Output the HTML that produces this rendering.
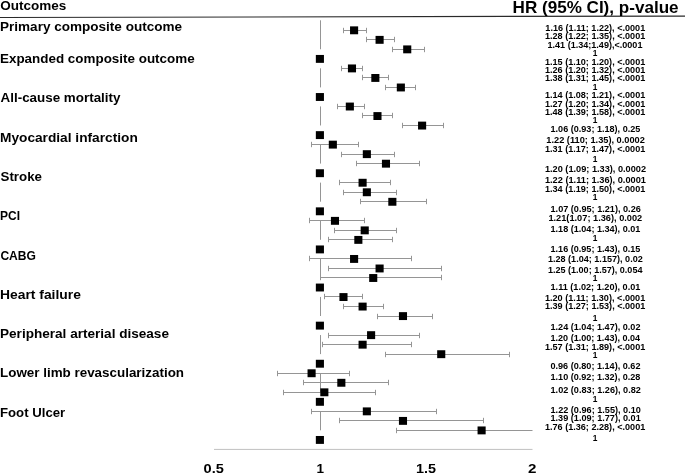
<!DOCTYPE html><html><head><meta charset="utf-8"><style>html,body{margin:0;padding:0;background:#fff;}svg{display:block;will-change:transform}text{font-family:"Liberation Sans",sans-serif;font-weight:bold;fill:#000}</style></head><body>
<svg width="685" height="473" viewBox="0 0 685 473">
<rect width="685" height="473" fill="#fff"/>
<path d="M0 17.5 L685 16.1" stroke="#2a2a2a" stroke-width="1.2" fill="none"/>
<text x="-0.01" y="30.90" font-size="13.2" textLength="182.07" lengthAdjust="spacingAndGlyphs">Primary composite outcome</text>
<text x="0.00" y="62.90" font-size="13.2" textLength="194.66" lengthAdjust="spacingAndGlyphs">Expanded composite outcome</text>
<text x="0.57" y="101.80" font-size="13.2" textLength="119.91" lengthAdjust="spacingAndGlyphs">All-cause mortality</text>
<text x="-0.02" y="141.90" font-size="13.2" textLength="137.77" lengthAdjust="spacingAndGlyphs">Myocardial infarction</text>
<text x="0.52" y="180.50" font-size="13.2" textLength="41.44" lengthAdjust="spacingAndGlyphs">Stroke</text>
<text x="0.10" y="220.10" font-size="13.2" textLength="20.01" lengthAdjust="spacingAndGlyphs">PCI</text>
<text x="0.40" y="259.60" font-size="13.2" textLength="35.54" lengthAdjust="spacingAndGlyphs">CABG</text>
<text x="-0.03" y="298.80" font-size="13.2" textLength="80.90" lengthAdjust="spacingAndGlyphs">Heart failure</text>
<text x="-0.01" y="337.80" font-size="13.2" textLength="168.97" lengthAdjust="spacingAndGlyphs">Peripheral arterial disease</text>
<text x="0.00" y="377.20" font-size="13.2" textLength="184.03" lengthAdjust="spacingAndGlyphs">Lower limb revascularization</text>
<text x="0.02" y="416.60" font-size="13.2" textLength="65.18" lengthAdjust="spacingAndGlyphs">Foot Ulcer</text>
<text x="0.35" y="9.50" font-size="13.2" textLength="66.01" lengthAdjust="spacingAndGlyphs">Outcomes</text>
<text x="512.56" y="13.10" font-size="16.5" textLength="166.03" lengthAdjust="spacingAndGlyphs">HR (95% CI), p-value</text>
<text x="545.33" y="31.00" font-size="9.5" textLength="99.92" lengthAdjust="spacingAndGlyphs">1.16 (1.11; 1.22), &lt;.0001</text>
<text x="544.93" y="39.40" font-size="9.5" textLength="100.33" lengthAdjust="spacingAndGlyphs">1.28 (1.22; 1.35), &lt;.0001</text>
<text x="547.53" y="47.60" font-size="9.5" textLength="94.92" lengthAdjust="spacingAndGlyphs">1.41 (1.34;1.49),&lt;.0001</text>
<text x="592.87" y="55.70" font-size="9.5" textLength="4.66" lengthAdjust="spacingAndGlyphs">1</text>
<text x="544.93" y="64.70" font-size="9.5" textLength="100.33" lengthAdjust="spacingAndGlyphs">1.15 (1.10; 1.20), &lt;.0001</text>
<text x="544.93" y="73.10" font-size="9.5" textLength="100.33" lengthAdjust="spacingAndGlyphs">1.26 (1.20; 1.32), &lt;.0001</text>
<text x="544.93" y="81.40" font-size="9.5" textLength="100.33" lengthAdjust="spacingAndGlyphs">1.38 (1.31; 1.45), &lt;.0001</text>
<text x="592.87" y="89.60" font-size="9.5" textLength="4.66" lengthAdjust="spacingAndGlyphs">1</text>
<text x="544.93" y="98.10" font-size="9.5" textLength="100.33" lengthAdjust="spacingAndGlyphs">1.14 (1.08; 1.21), &lt;.0001</text>
<text x="544.93" y="106.50" font-size="9.5" textLength="100.33" lengthAdjust="spacingAndGlyphs">1.27 (1.20; 1.34), &lt;.0001</text>
<text x="544.93" y="114.90" font-size="9.5" textLength="100.33" lengthAdjust="spacingAndGlyphs">1.48 (1.39; 1.58), &lt;.0001</text>
<text x="592.87" y="123.10" font-size="9.5" textLength="4.66" lengthAdjust="spacingAndGlyphs">1</text>
<text x="550.53" y="132.10" font-size="9.5" textLength="89.82" lengthAdjust="spacingAndGlyphs">1.06 (0.93; 1.18), 0.25</text>
<text x="546.32" y="143.10" font-size="9.5" textLength="98.55" lengthAdjust="spacingAndGlyphs">1.22 (110; 1.35), 0.0002</text>
<text x="544.93" y="151.90" font-size="9.5" textLength="100.33" lengthAdjust="spacingAndGlyphs">1.31 (1.17; 1.47), &lt;.0001</text>
<text x="592.87" y="162.40" font-size="9.5" textLength="4.66" lengthAdjust="spacingAndGlyphs">1</text>
<text x="544.92" y="172.40" font-size="9.5" textLength="101.15" lengthAdjust="spacingAndGlyphs">1.20 (1.09; 1.33), 0.0002</text>
<text x="544.92" y="183.20" font-size="9.5" textLength="101.03" lengthAdjust="spacingAndGlyphs">1.22 (1.11; 1.36), 0.0001</text>
<text x="544.93" y="192.00" font-size="9.5" textLength="100.33" lengthAdjust="spacingAndGlyphs">1.34 (1.19; 1.50), &lt;.0001</text>
<text x="592.87" y="200.40" font-size="9.5" textLength="4.66" lengthAdjust="spacingAndGlyphs">1</text>
<text x="550.53" y="211.80" font-size="9.5" textLength="90.30" lengthAdjust="spacingAndGlyphs">1.07 (0.95; 1.21), 0.26</text>
<text x="548.42" y="220.90" font-size="9.5" textLength="93.85" lengthAdjust="spacingAndGlyphs">1.21(1.07; 1.36), 0.002</text>
<text x="550.53" y="232.30" font-size="9.5" textLength="89.82" lengthAdjust="spacingAndGlyphs">1.18 (1.04; 1.34), 0.01</text>
<text x="592.87" y="240.70" font-size="9.5" textLength="4.66" lengthAdjust="spacingAndGlyphs">1</text>
<text x="550.53" y="252.40" font-size="9.5" textLength="89.82" lengthAdjust="spacingAndGlyphs">1.16 (0.95; 1.43), 0.15</text>
<text x="547.93" y="261.50" font-size="9.5" textLength="94.83" lengthAdjust="spacingAndGlyphs">1.28 (1.04; 1.157), 0.02</text>
<text x="547.93" y="272.50" font-size="9.5" textLength="94.52" lengthAdjust="spacingAndGlyphs">1.25 (1.00; 1.57), 0.054</text>
<text x="592.87" y="281.20" font-size="9.5" textLength="4.66" lengthAdjust="spacingAndGlyphs">1</text>
<text x="550.53" y="290.00" font-size="9.5" textLength="89.82" lengthAdjust="spacingAndGlyphs">1.11 (1.02; 1.20), 0.01</text>
<text x="544.93" y="300.70" font-size="9.5" textLength="100.33" lengthAdjust="spacingAndGlyphs">1.20 (1.11; 1.30), &lt;.0001</text>
<text x="544.93" y="309.40" font-size="9.5" textLength="100.33" lengthAdjust="spacingAndGlyphs">1.39 (1.27; 1.53), &lt;.0001</text>
<text x="592.87" y="321.20" font-size="9.5" textLength="4.66" lengthAdjust="spacingAndGlyphs">1</text>
<text x="550.53" y="330.20" font-size="9.5" textLength="89.94" lengthAdjust="spacingAndGlyphs">1.24 (1.04; 1.47), 0.02</text>
<text x="550.53" y="340.70" font-size="9.5" textLength="89.62" lengthAdjust="spacingAndGlyphs">1.20 (1.00; 1.43), 0.04</text>
<text x="544.93" y="349.80" font-size="9.5" textLength="100.33" lengthAdjust="spacingAndGlyphs">1.57 (1.31; 1.89), &lt;.0001</text>
<text x="592.87" y="358.00" font-size="9.5" textLength="4.66" lengthAdjust="spacingAndGlyphs">1</text>
<text x="550.44" y="369.40" font-size="9.5" textLength="90.02" lengthAdjust="spacingAndGlyphs">0.96 (0.80; 1.14), 0.62</text>
<text x="550.53" y="379.90" font-size="9.5" textLength="89.85" lengthAdjust="spacingAndGlyphs">1.10 (0.92; 1.32), 0.28</text>
<text x="550.52" y="392.90" font-size="9.5" textLength="90.34" lengthAdjust="spacingAndGlyphs">1.02 (0.83; 1.26), 0.82</text>
<text x="592.87" y="401.60" font-size="9.5" textLength="4.66" lengthAdjust="spacingAndGlyphs">1</text>
<text x="550.52" y="412.70" font-size="9.5" textLength="90.35" lengthAdjust="spacingAndGlyphs">1.22 (0.96; 1.55), 0.10</text>
<text x="550.53" y="421.40" font-size="9.5" textLength="90.23" lengthAdjust="spacingAndGlyphs">1.39 (1.09; 1.77), 0.01</text>
<text x="544.93" y="430.20" font-size="9.5" textLength="100.33" lengthAdjust="spacingAndGlyphs">1.76 (1.36; 2.28), &lt;.0001</text>
<text x="592.87" y="441.30" font-size="9.5" textLength="4.66" lengthAdjust="spacingAndGlyphs">1</text>
<line x1="320.5" y1="20.30" x2="320.5" y2="49.27" stroke="#959595" stroke-width="1"/>
<line x1="320.5" y1="68.32" x2="320.5" y2="87.38" stroke="#959595" stroke-width="1"/>
<line x1="320.5" y1="106.43" x2="320.5" y2="125.48" stroke="#959595" stroke-width="1"/>
<line x1="320.5" y1="144.53" x2="320.5" y2="163.58" stroke="#959595" stroke-width="1"/>
<line x1="320.5" y1="182.64" x2="320.5" y2="201.69" stroke="#959595" stroke-width="1"/>
<line x1="320.5" y1="220.74" x2="320.5" y2="239.79" stroke="#959595" stroke-width="1"/>
<line x1="320.5" y1="258.84" x2="320.5" y2="277.90" stroke="#959595" stroke-width="1"/>
<line x1="320.5" y1="296.95" x2="320.5" y2="316.00" stroke="#959595" stroke-width="1"/>
<line x1="320.5" y1="335.05" x2="320.5" y2="354.10" stroke="#959595" stroke-width="1"/>
<line x1="320.5" y1="373.16" x2="320.5" y2="392.21" stroke="#959595" stroke-width="1"/>
<line x1="320.5" y1="411.26" x2="320.5" y2="430.31" stroke="#959595" stroke-width="1"/>
<line x1="343.50" y1="30.50" x2="366.50" y2="30.50" stroke="#959595" stroke-width="1"/>
<line x1="343.50" y1="27.80" x2="343.50" y2="33.20" stroke="#959595" stroke-width="1"/>
<line x1="366.50" y1="27.80" x2="366.50" y2="33.20" stroke="#959595" stroke-width="1"/>
<rect x="350.04" y="26.37" width="8.1" height="7.90" fill="#000"/>
<line x1="366.50" y1="39.50" x2="394.50" y2="39.50" stroke="#959595" stroke-width="1"/>
<line x1="366.50" y1="36.80" x2="366.50" y2="42.20" stroke="#959595" stroke-width="1"/>
<line x1="394.50" y1="36.80" x2="394.50" y2="42.20" stroke="#959595" stroke-width="1"/>
<rect x="375.55" y="35.90" width="8.1" height="7.90" fill="#000"/>
<line x1="392.50" y1="49.50" x2="424.50" y2="49.50" stroke="#959595" stroke-width="1"/>
<line x1="392.50" y1="46.80" x2="392.50" y2="52.20" stroke="#959595" stroke-width="1"/>
<line x1="424.50" y1="46.80" x2="424.50" y2="52.20" stroke="#959595" stroke-width="1"/>
<rect x="403.18" y="45.42" width="8.1" height="7.90" fill="#000"/>
<rect x="315.84" y="54.95" width="8.1" height="7.90" fill="#000"/>
<line x1="341.50" y1="68.50" x2="362.50" y2="68.50" stroke="#959595" stroke-width="1"/>
<line x1="341.50" y1="65.80" x2="341.50" y2="71.20" stroke="#959595" stroke-width="1"/>
<line x1="362.50" y1="65.80" x2="362.50" y2="71.20" stroke="#959595" stroke-width="1"/>
<rect x="347.92" y="64.47" width="8.1" height="7.90" fill="#000"/>
<line x1="362.50" y1="77.50" x2="388.50" y2="77.50" stroke="#959595" stroke-width="1"/>
<line x1="362.50" y1="74.80" x2="362.50" y2="80.20" stroke="#959595" stroke-width="1"/>
<line x1="388.50" y1="74.80" x2="388.50" y2="80.20" stroke="#959595" stroke-width="1"/>
<rect x="371.30" y="74.00" width="8.1" height="7.90" fill="#000"/>
<line x1="385.50" y1="87.50" x2="415.50" y2="87.50" stroke="#959595" stroke-width="1"/>
<line x1="385.50" y1="84.80" x2="385.50" y2="90.20" stroke="#959595" stroke-width="1"/>
<line x1="415.50" y1="84.80" x2="415.50" y2="90.20" stroke="#959595" stroke-width="1"/>
<rect x="396.80" y="83.53" width="8.1" height="7.90" fill="#000"/>
<rect x="315.84" y="93.05" width="8.1" height="7.90" fill="#000"/>
<line x1="337.50" y1="106.50" x2="364.50" y2="106.50" stroke="#959595" stroke-width="1"/>
<line x1="337.50" y1="103.80" x2="337.50" y2="109.20" stroke="#959595" stroke-width="1"/>
<line x1="364.50" y1="103.80" x2="364.50" y2="109.20" stroke="#959595" stroke-width="1"/>
<rect x="345.79" y="102.58" width="8.1" height="7.90" fill="#000"/>
<line x1="362.50" y1="115.50" x2="392.50" y2="115.50" stroke="#959595" stroke-width="1"/>
<line x1="362.50" y1="112.80" x2="362.50" y2="118.20" stroke="#959595" stroke-width="1"/>
<line x1="392.50" y1="112.80" x2="392.50" y2="118.20" stroke="#959595" stroke-width="1"/>
<rect x="373.42" y="112.10" width="8.1" height="7.90" fill="#000"/>
<line x1="402.50" y1="125.50" x2="443.50" y2="125.50" stroke="#959595" stroke-width="1"/>
<line x1="402.50" y1="122.80" x2="402.50" y2="128.20" stroke="#959595" stroke-width="1"/>
<line x1="443.50" y1="122.80" x2="443.50" y2="128.20" stroke="#959595" stroke-width="1"/>
<rect x="418.05" y="121.63" width="8.1" height="7.90" fill="#000"/>
<rect x="315.84" y="131.16" width="8.1" height="7.90" fill="#000"/>
<line x1="311.50" y1="144.50" x2="358.50" y2="144.50" stroke="#959595" stroke-width="1"/>
<line x1="311.50" y1="141.80" x2="311.50" y2="147.20" stroke="#959595" stroke-width="1"/>
<line x1="358.50" y1="141.80" x2="358.50" y2="147.20" stroke="#959595" stroke-width="1"/>
<rect x="328.79" y="140.68" width="8.1" height="7.90" fill="#000"/>
<line x1="341.50" y1="154.50" x2="394.50" y2="154.50" stroke="#959595" stroke-width="1"/>
<line x1="341.50" y1="151.80" x2="341.50" y2="157.20" stroke="#959595" stroke-width="1"/>
<line x1="394.50" y1="151.80" x2="394.50" y2="157.20" stroke="#959595" stroke-width="1"/>
<rect x="362.80" y="150.21" width="8.1" height="7.90" fill="#000"/>
<line x1="356.50" y1="163.50" x2="419.50" y2="163.50" stroke="#959595" stroke-width="1"/>
<line x1="356.50" y1="160.80" x2="356.50" y2="166.20" stroke="#959595" stroke-width="1"/>
<line x1="419.50" y1="160.80" x2="419.50" y2="166.20" stroke="#959595" stroke-width="1"/>
<rect x="381.92" y="159.73" width="8.1" height="7.90" fill="#000"/>
<rect x="315.84" y="169.26" width="8.1" height="7.90" fill="#000"/>
<line x1="339.50" y1="182.50" x2="390.50" y2="182.50" stroke="#959595" stroke-width="1"/>
<line x1="339.50" y1="179.80" x2="339.50" y2="185.20" stroke="#959595" stroke-width="1"/>
<line x1="390.50" y1="179.80" x2="390.50" y2="185.20" stroke="#959595" stroke-width="1"/>
<rect x="358.55" y="178.79" width="8.1" height="7.90" fill="#000"/>
<line x1="343.50" y1="192.50" x2="396.50" y2="192.50" stroke="#959595" stroke-width="1"/>
<line x1="343.50" y1="189.80" x2="343.50" y2="195.20" stroke="#959595" stroke-width="1"/>
<line x1="396.50" y1="189.80" x2="396.50" y2="195.20" stroke="#959595" stroke-width="1"/>
<rect x="362.80" y="188.31" width="8.1" height="7.90" fill="#000"/>
<line x1="360.50" y1="201.50" x2="426.50" y2="201.50" stroke="#959595" stroke-width="1"/>
<line x1="360.50" y1="198.80" x2="360.50" y2="204.20" stroke="#959595" stroke-width="1"/>
<line x1="426.50" y1="198.80" x2="426.50" y2="204.20" stroke="#959595" stroke-width="1"/>
<rect x="388.30" y="197.84" width="8.1" height="7.90" fill="#000"/>
<rect x="315.84" y="207.36" width="8.1" height="7.90" fill="#000"/>
<line x1="309.50" y1="220.50" x2="364.50" y2="220.50" stroke="#959595" stroke-width="1"/>
<line x1="309.50" y1="217.80" x2="309.50" y2="223.20" stroke="#959595" stroke-width="1"/>
<line x1="364.50" y1="217.80" x2="364.50" y2="223.20" stroke="#959595" stroke-width="1"/>
<rect x="330.92" y="216.89" width="8.1" height="7.90" fill="#000"/>
<line x1="334.50" y1="230.50" x2="396.50" y2="230.50" stroke="#959595" stroke-width="1"/>
<line x1="334.50" y1="227.80" x2="334.50" y2="233.20" stroke="#959595" stroke-width="1"/>
<line x1="396.50" y1="227.80" x2="396.50" y2="233.20" stroke="#959595" stroke-width="1"/>
<rect x="360.67" y="226.42" width="8.1" height="7.90" fill="#000"/>
<line x1="328.50" y1="239.50" x2="392.50" y2="239.50" stroke="#959595" stroke-width="1"/>
<line x1="328.50" y1="236.80" x2="328.50" y2="242.20" stroke="#959595" stroke-width="1"/>
<line x1="392.50" y1="236.80" x2="392.50" y2="242.20" stroke="#959595" stroke-width="1"/>
<rect x="354.30" y="235.94" width="8.1" height="7.90" fill="#000"/>
<rect x="315.84" y="245.47" width="8.1" height="7.90" fill="#000"/>
<line x1="309.50" y1="258.50" x2="411.50" y2="258.50" stroke="#959595" stroke-width="1"/>
<line x1="309.50" y1="255.80" x2="309.50" y2="261.20" stroke="#959595" stroke-width="1"/>
<line x1="411.50" y1="255.80" x2="411.50" y2="261.20" stroke="#959595" stroke-width="1"/>
<rect x="350.04" y="254.99" width="8.1" height="7.90" fill="#000"/>
<line x1="328.50" y1="268.50" x2="441.50" y2="268.50" stroke="#959595" stroke-width="1"/>
<line x1="328.50" y1="265.80" x2="328.50" y2="271.20" stroke="#959595" stroke-width="1"/>
<line x1="441.50" y1="265.80" x2="441.50" y2="271.20" stroke="#959595" stroke-width="1"/>
<rect x="375.55" y="264.52" width="8.1" height="7.90" fill="#000"/>
<line x1="320.50" y1="277.50" x2="441.50" y2="277.50" stroke="#959595" stroke-width="1"/>
<line x1="320.50" y1="274.80" x2="320.50" y2="280.20" stroke="#959595" stroke-width="1"/>
<line x1="441.50" y1="274.80" x2="441.50" y2="280.20" stroke="#959595" stroke-width="1"/>
<rect x="369.17" y="274.05" width="8.1" height="7.90" fill="#000"/>
<rect x="315.84" y="283.57" width="8.1" height="7.90" fill="#000"/>
<line x1="324.50" y1="296.50" x2="362.50" y2="296.50" stroke="#959595" stroke-width="1"/>
<line x1="324.50" y1="293.80" x2="324.50" y2="299.20" stroke="#959595" stroke-width="1"/>
<line x1="362.50" y1="293.80" x2="362.50" y2="299.20" stroke="#959595" stroke-width="1"/>
<rect x="339.42" y="293.10" width="8.1" height="7.90" fill="#000"/>
<line x1="343.50" y1="306.50" x2="383.50" y2="306.50" stroke="#959595" stroke-width="1"/>
<line x1="343.50" y1="303.80" x2="343.50" y2="309.20" stroke="#959595" stroke-width="1"/>
<line x1="383.50" y1="303.80" x2="383.50" y2="309.20" stroke="#959595" stroke-width="1"/>
<rect x="358.55" y="302.62" width="8.1" height="7.90" fill="#000"/>
<line x1="377.50" y1="316.50" x2="432.50" y2="316.50" stroke="#959595" stroke-width="1"/>
<line x1="377.50" y1="313.80" x2="377.50" y2="319.20" stroke="#959595" stroke-width="1"/>
<line x1="432.50" y1="313.80" x2="432.50" y2="319.20" stroke="#959595" stroke-width="1"/>
<rect x="398.93" y="312.15" width="8.1" height="7.90" fill="#000"/>
<rect x="315.84" y="321.68" width="8.1" height="7.90" fill="#000"/>
<line x1="328.50" y1="335.50" x2="419.50" y2="335.50" stroke="#959595" stroke-width="1"/>
<line x1="328.50" y1="332.80" x2="328.50" y2="338.20" stroke="#959595" stroke-width="1"/>
<line x1="419.50" y1="332.80" x2="419.50" y2="338.20" stroke="#959595" stroke-width="1"/>
<rect x="367.05" y="331.20" width="8.1" height="7.90" fill="#000"/>
<line x1="322.50" y1="344.50" x2="411.50" y2="344.50" stroke="#959595" stroke-width="1"/>
<line x1="322.50" y1="341.80" x2="322.50" y2="347.20" stroke="#959595" stroke-width="1"/>
<line x1="411.50" y1="341.80" x2="411.50" y2="347.20" stroke="#959595" stroke-width="1"/>
<rect x="358.55" y="340.73" width="8.1" height="7.90" fill="#000"/>
<line x1="385.50" y1="354.50" x2="509.50" y2="354.50" stroke="#959595" stroke-width="1"/>
<line x1="385.50" y1="351.80" x2="385.50" y2="357.20" stroke="#959595" stroke-width="1"/>
<line x1="509.50" y1="351.80" x2="509.50" y2="357.20" stroke="#959595" stroke-width="1"/>
<rect x="437.18" y="350.25" width="8.1" height="7.90" fill="#000"/>
<rect x="315.84" y="359.78" width="8.1" height="7.90" fill="#000"/>
<line x1="277.50" y1="373.50" x2="349.50" y2="373.50" stroke="#959595" stroke-width="1"/>
<line x1="277.50" y1="370.80" x2="277.50" y2="376.20" stroke="#959595" stroke-width="1"/>
<line x1="349.50" y1="370.80" x2="349.50" y2="376.20" stroke="#959595" stroke-width="1"/>
<rect x="307.54" y="369.31" width="8.1" height="7.90" fill="#000"/>
<line x1="303.50" y1="382.50" x2="388.50" y2="382.50" stroke="#959595" stroke-width="1"/>
<line x1="303.50" y1="379.80" x2="303.50" y2="385.20" stroke="#959595" stroke-width="1"/>
<line x1="388.50" y1="379.80" x2="388.50" y2="385.20" stroke="#959595" stroke-width="1"/>
<rect x="337.29" y="378.83" width="8.1" height="7.90" fill="#000"/>
<line x1="283.50" y1="392.50" x2="375.50" y2="392.50" stroke="#959595" stroke-width="1"/>
<line x1="283.50" y1="389.80" x2="283.50" y2="395.20" stroke="#959595" stroke-width="1"/>
<line x1="375.50" y1="389.80" x2="375.50" y2="395.20" stroke="#959595" stroke-width="1"/>
<rect x="320.29" y="388.36" width="8.1" height="7.90" fill="#000"/>
<rect x="315.84" y="397.88" width="8.1" height="7.90" fill="#000"/>
<line x1="311.50" y1="411.50" x2="436.50" y2="411.50" stroke="#959595" stroke-width="1"/>
<line x1="311.50" y1="408.80" x2="311.50" y2="414.20" stroke="#959595" stroke-width="1"/>
<line x1="436.50" y1="408.80" x2="436.50" y2="414.20" stroke="#959595" stroke-width="1"/>
<rect x="362.80" y="407.41" width="8.1" height="7.90" fill="#000"/>
<line x1="339.50" y1="420.50" x2="483.50" y2="420.50" stroke="#959595" stroke-width="1"/>
<line x1="339.50" y1="417.80" x2="339.50" y2="423.20" stroke="#959595" stroke-width="1"/>
<line x1="483.50" y1="417.80" x2="483.50" y2="423.20" stroke="#959595" stroke-width="1"/>
<rect x="398.93" y="416.94" width="8.1" height="7.90" fill="#000"/>
<line x1="396.50" y1="430.50" x2="532.50" y2="430.50" stroke="#959595" stroke-width="1"/>
<line x1="396.50" y1="427.80" x2="396.50" y2="433.20" stroke="#959595" stroke-width="1"/>
<rect x="477.56" y="426.46" width="8.1" height="7.90" fill="#000"/>
<rect x="315.84" y="435.99" width="8.1" height="7.90" fill="#000"/>
<line x1="214" y1="449.4" x2="532.5" y2="449.4" stroke="#c0c0c0" stroke-width="1"/>
<text x="203.62" y="472.80" font-size="13.2" textLength="20.28" lengthAdjust="spacingAndGlyphs">0.5</text>
<text x="316.45" y="472.80" font-size="13.2" textLength="7.53" lengthAdjust="spacingAndGlyphs">1</text>
<text x="416.09" y="472.80" font-size="13.2" textLength="20.01" lengthAdjust="spacingAndGlyphs">1.5</text>
<text x="528.07" y="472.80" font-size="13.2" textLength="8.43" lengthAdjust="spacingAndGlyphs">2</text>
</svg></body></html>
